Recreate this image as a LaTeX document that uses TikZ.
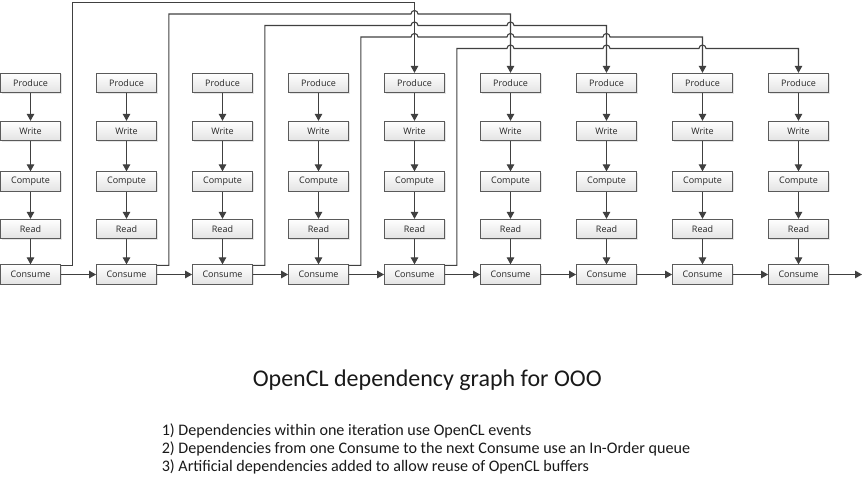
\documentclass[tikz,border=0pt]{standalone}
\usepackage{fontspec}
\setmainfont{Carlito}
\newfontfamily\boxfont{Open Sans}
\usetikzlibrary{arrows.meta,shadows}
\definecolor{ln}{HTML}{404040}
\definecolor{bx}{HTML}{5A5A5A}

\begin{document}
\begin{tikzpicture}[->,>={Triangle[length=7pt,width=7.5pt]},x=1pt,y=-1pt,semithick]
\tikzstyle{task}=[draw=bx,line width=0.8pt,top color=white,bottom color=black!11,minimum width=60pt,minimum height=19.5pt,inner sep=0pt,font=\boxfont\fontsize{9}{10}\selectfont,text=black!85,drop shadow={shadow xshift=1pt,shadow yshift=-1pt,opacity=0.2}]
\tikzstyle{every edge}=[draw=ln,line width=1.1pt]
\tikzstyle{dep}=[draw=ln,line width=1.1pt]
\tikzstyle{note}=[anchor=base west,inner sep=0pt,text=black!90,font=\fontsize{16.1}{18}\selectfont]
\useasboundingbox (0,0) rectangle (865,479);

\foreach \i in {0,...,8}{
  \pgfmathsetmacro{\cx}{30.5+96*\i}
  \node[task] (P\i) at (\cx,83) {Produce};
  \node[task] (W\i) at (\cx,131) {Write};
  \node[task] (K\i) at (\cx,181.5) {Compute};
  \node[task] (R\i) at (\cx,229) {Read};
  \node[task] (C\i) at (\cx,274.5) {Consume};
  \path (P\i) edge (W\i)
        (W\i) edge (K\i)
        (K\i) edge (R\i)
        (R\i) edge (C\i);
}
\foreach \i [evaluate=\i as \j using int(\i+1)] in {0,...,7}
  \path (C\i) edge (C\j);
\coordinate (out) at (862,274.5);
\path (C8) edge (out);

% artificial dependencies (buffer reuse)
\draw[dep] ([yshift=-1pt]C0.north east) -- ++(12,0) |- (414.5,2.5) -- (P4.north);
\draw[dep] ([yshift=-1pt]C1.north east) -- ++(12,0) |- (411,14)
  arc[start angle=180,end angle=0,radius=3.5pt] -| (P5.north);
\draw[dep] ([yshift=-1pt]C2.north east) -- ++(12,0) |- (411,25.5)
  arc[start angle=180,end angle=0,radius=3.5pt] -- (507,25.5)
  arc[start angle=180,end angle=0,radius=3.5pt] -| (P6.north);
\draw[dep] ([yshift=-1pt]C3.north east) -- ++(12,0) |- (411,37)
  arc[start angle=180,end angle=0,radius=3.5pt] -- (507,37)
  arc[start angle=180,end angle=0,radius=3.5pt] -- (603,37)
  arc[start angle=180,end angle=0,radius=3.5pt] -| (P7.north);
\draw[dep] ([yshift=-1pt]C4.north east) -- ++(12,0) |- (507,48.5)
  arc[start angle=180,end angle=0,radius=3.5pt] -- (603,48.5)
  arc[start angle=180,end angle=0,radius=3.5pt] -- (699,48.5)
  arc[start angle=180,end angle=0,radius=3.5pt] -| (P8.north);

\node[anchor=base west,inner sep=0pt,text=black!90,font=\fontsize{24}{28}\selectfont] (title) at (252.5,386) {OpenCL dependency graph for OOO};
\node[note] (n1) at (161.5,435.7) {1) Dependencies within one iteration use OpenCL events};
\node[note] (n2) at (161.5,453.7) {2) Dependencies from one Consume to the next Consume use an In-Order queue};
\node[note] (n3) at (161.5,471.7) {3) Artificial dependencies added to allow reuse of OpenCL buffers};
\end{tikzpicture}
\end{document}
